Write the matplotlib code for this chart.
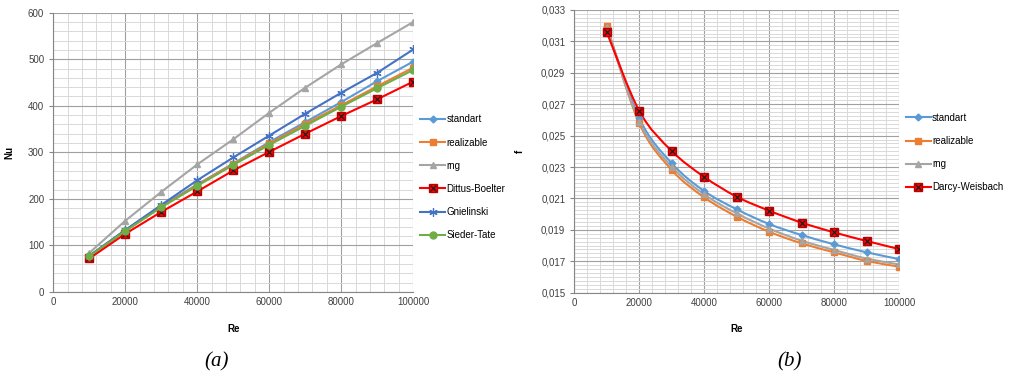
import numpy as np
import matplotlib
matplotlib.use("Agg")
import matplotlib.pyplot as plt
from matplotlib.path import Path
from matplotlib.patches import PathPatch
from matplotlib.lines import Line2D
from matplotlib.legend_handler import HandlerTuple
from matplotlib.ticker import MultipleLocator, FuncFormatter

plt.rcParams['font.family'] = ['Liberation Sans', 'DejaVu Sans']

# ---- data ----
re_vals = [10000, 20000, 30000, 40000, 50000, 60000, 70000, 80000, 90000, 100000]

nu_standart = [77, 133, 185, 231, 276, 322, 365, 408, 453, 495]
nu_realizable = [76, 131, 183, 230, 275, 319, 361, 401, 442, 482]
nu_rng = [84, 153, 215, 274, 328, 385, 439, 489, 535, 580]
nu_dittus = [72, 125, 172, 216, 261, 301, 340, 378, 414, 452]
nu_gnielinski = [78, 133, 187, 240, 289, 336, 383, 428, 471, 521]
nu_sieder = [77, 131, 182, 228, 273, 316, 357, 398, 438, 477]

f_standart = [0.0319, 0.0261, 0.02324, 0.02147, 0.02031, 0.01937, 0.01867, 0.01808, 0.01757, 0.01714]
f_realizable = [0.03198, 0.02578, 0.02281, 0.02107, 0.01984, 0.01888, 0.01814, 0.01757, 0.01702, 0.01666]
f_rng = [0.0319, 0.02589, 0.02302, 0.02126, 0.02005, 0.01908, 0.01831, 0.01772, 0.01717, 0.0168]
f_darcy = [0.03158, 0.02657, 0.02402, 0.02237, 0.02111, 0.02022, 0.01946, 0.01884, 0.01829, 0.01778]

BLUE = '#5B9BD5'
ORANGE = '#ED7D31'
GRAY = '#A5A5A5'
RED = '#FF0000'
DBLUE = '#4472C4'
GREEN = '#70AD47'


def excel_grid(ax):
    ax.set_axisbelow(True)
    ax.grid(which='major', color='#A0A0A0', lw=0.8)
    ax.grid(which='minor', color='#D9D9D9', lw=0.7)
    for s in ['top', 'right']:
        ax.spines[s].set_visible(False)
    for s in ['left', 'bottom']:
        ax.spines[s].set_color('#868686')
        ax.spines[s].set_linewidth(0.8)
    ax.tick_params(which='major', length=3, color='#868686', labelsize=7, colors='#404040')
    ax.tick_params(which='minor', length=0)
    ax.tick_params(axis='x', length=0)


def smooth_path(x, y):
    # Excel-like smoothed line: cubic Bezier through the points
    pts = np.column_stack([x, y]).astype(float)
    n = len(pts)
    verts = [pts[0]]
    codes = [Path.MOVETO]
    for i in range(n - 1):
        p0 = pts[i - 1] if i > 0 else pts[i]
        p1 = pts[i]
        p2 = pts[i + 1]
        p3 = pts[i + 2] if i + 2 < n else pts[i + 1]
        c1 = p1 + (p2 - p0) / 6.0
        c2 = p2 - (p3 - p1) / 6.0
        verts += [c1, c2, p2]
        codes += [Path.CURVE4] * 3
    return Path(verts, codes)


fig = plt.figure(figsize=(10.09, 3.78), dpi=100)
ax1 = fig.add_axes([0.0528, 0.2275, 0.3568, 0.739])
ax2 = fig.add_axes([0.5692, 0.2257, 0.3218, 0.748])

# ---------- (a) Nu vs Re ----------
l1, = ax1.plot(re_vals, nu_standart, color=BLUE, lw=1.5, marker='D', ms=3.5, label='standart')
l2, = ax1.plot(re_vals, nu_realizable, color=ORANGE, lw=1.5, marker='s', ms=5, label='realizable')
l3, = ax1.plot(re_vals, nu_rng, color=GRAY, lw=1.5, marker='^', ms=5, label='rng')
l4, = ax1.plot(re_vals, nu_dittus, color=RED, lw=1.5, marker='s', ms=5.5, mec='#C00000', label='Dittus-Boelter')
l4x, = ax1.plot(re_vals, nu_dittus, ls='none', marker='x', ms=4, mew=0.9, color='#202020')
l5, = ax1.plot(re_vals, nu_gnielinski, color=DBLUE, lw=1.5, marker=(6, 2, 0), ms=6, mew=0.9, label='Gnielinski')
l6, = ax1.plot(re_vals, nu_sieder, color=GREEN, lw=1.5, marker='o', ms=5, label='Sieder-Tate')

ax1.set_xlim(0, 100000)
ax1.set_ylim(0, 600)
ax1.xaxis.set_major_locator(MultipleLocator(20000))
ax1.xaxis.set_minor_locator(MultipleLocator(4000))
ax1.yaxis.set_major_locator(MultipleLocator(100))
ax1.yaxis.set_minor_locator(MultipleLocator(20))
excel_grid(ax1)
ax1.set_xlabel('Re', fontsize=7, fontweight='bold', labelpad=12)
ax1.set_ylabel('Nu', fontsize=7, fontweight='bold', labelpad=10)

ax1.legend([l1, l2, l3, (l4, l4x), l5, l6],
           ['standart', 'realizable', 'rng', 'Dittus-Boelter', 'Gnielinski', 'Sieder-Tate'],
           handler_map={tuple: HandlerTuple(ndivide=1, pad=0)},
           loc='upper left', bbox_to_anchor=(1.0, 0.66), frameon=False, fontsize=7,
           handlelength=2.6, labelspacing=1.35, handletextpad=0.1, borderaxespad=0.3)

# ---------- (b) f vs Re ----------
series_b = [
    (f_standart, BLUE, 'D', 3.5, 'standart'),
    (f_realizable, ORANGE, 's', 5, 'realizable'),
    (f_rng, GRAY, '^', 5, 'rng'),
    (f_darcy, RED, 's', 5.5, 'Darcy-Weisbach'),
]
handles = []
for vals, col, mk, ms, lab in series_b:
    ax2.add_patch(PathPatch(smooth_path(re_vals, vals), fill=False, edgecolor=col, lw=1.5))
    kw = dict(mec='#C00000') if lab == 'Darcy-Weisbach' else {}
    h, = ax2.plot(re_vals, vals, ls='none', color=col, marker=mk, ms=ms, **kw)
    hl = Line2D([], [], color=col, lw=1.5, marker=mk, ms=ms, **kw)
    if lab == 'Darcy-Weisbach':
        hx, = ax2.plot(re_vals, vals, ls='none', marker='x', ms=4, mew=0.9, color='#202020')
        handles.append((hl, hx))
    else:
        handles.append(hl)

ax2.set_xlim(0, 100000)
ax2.set_ylim(0.015, 0.033)
ax2.xaxis.set_major_locator(MultipleLocator(20000))
ax2.xaxis.set_minor_locator(MultipleLocator(4000))
ax2.set_yticks(np.arange(0.015, 0.0331, 0.002))
ax2.yaxis.set_minor_locator(MultipleLocator(0.00025))
ax2.yaxis.set_major_formatter(FuncFormatter(lambda v, p: ('%.3f' % v).replace('.', ',')))
excel_grid(ax2)
ax2.set_xlabel('Re', fontsize=7, fontweight='bold', labelpad=12)
ax2.set_ylabel('f', fontsize=7, fontweight='bold', labelpad=12)

ax2.legend(handles, ['standart', 'realizable', 'rng', 'Darcy-Weisbach'],
           handler_map={tuple: HandlerTuple(ndivide=1, pad=0)},
           loc='upper left', bbox_to_anchor=(1.0, 0.66), frameon=False, fontsize=7,
           handlelength=2.6, labelspacing=1.35, handletextpad=0.1, borderaxespad=0.3)

fig.text(217 / 1009, 1 - 362 / 378, '(a)', fontsize=15, style='italic',
         family='Liberation Serif', ha='center', va='center')
fig.text(790 / 1009, 1 - 362 / 378, '(b)', fontsize=15, style='italic',
         family='Liberation Serif', ha='center', va='center')

fig.savefig('out.png', dpi=100)
